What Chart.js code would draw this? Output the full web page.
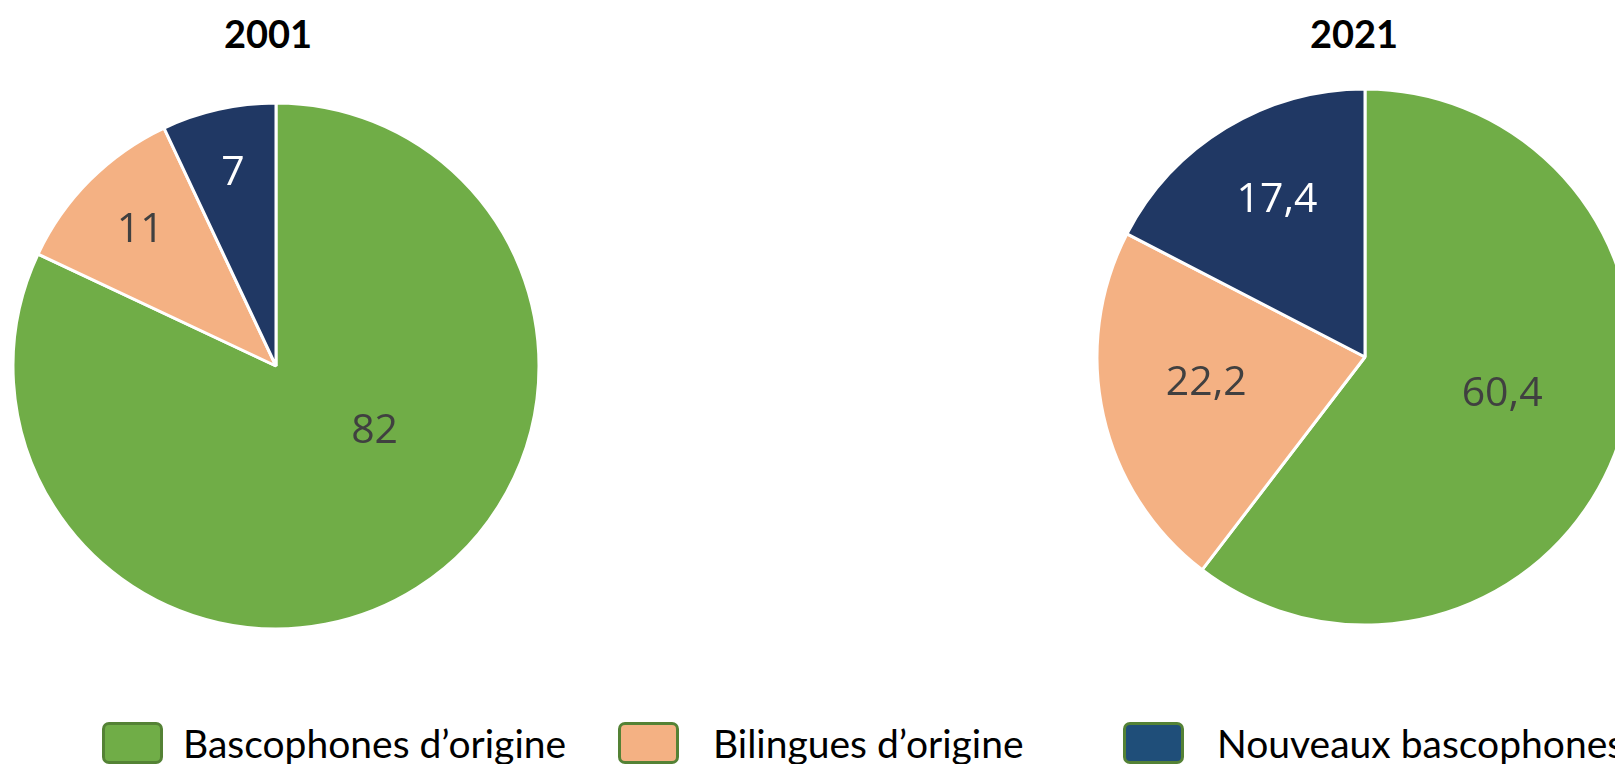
<!DOCTYPE html>
<html>
<head>
<meta charset="utf-8">
<script src="https://cdn.jsdelivr.net/npm/chart.js@4.4.0/dist/chart.umd.min.js"></script>
<style>
  html, body { margin: 0; padding: 0; background: #fff; }
  body { width: 1615px; height: 764px; overflow: hidden; position: relative; }
  canvas { position: absolute; }
  .title { position: absolute; top: 10px; font: bold 38px Lato, "Open Sans", sans-serif; color: #000; transform: translateX(-50%); }
  .lg-box { position: absolute; top: 722px; width: 55px; height: 36px; border: 3px solid #548235; border-radius: 7px; }
  .lg-text { position: absolute; top: 720px; font: 39px Lato, "Open Sans", sans-serif; color: #000; white-space: nowrap; line-height: 46px; }
</style>
</head>
<body>
<canvas id="pie2001" width="540" height="540" style="left:6px;top:96px"></canvas>
<canvas id="pie2021" width="560" height="560" style="left:1085px;top:77px"></canvas>
<div class="title" style="left:268px">2001</div>
<div class="title" style="left:1354px">2021</div>
<div id="legend"></div>
<script>
// data
var categories = ['Bascophones d\u2019origine', 'Bilingues d\u2019origine', 'Nouveaux bascophones'];
var values2001 = [82, 11, 7];
var values2021 = [60.4, 22.2, 17.4];
var labels2001 = ['82', '11', '7'];
var labels2021 = ['60,4', '22,2', '17,4'];

var sliceColors = ['#70AD47', '#F4B183', '#203864'];
var legendColors = ['#70AD47', '#F4B183', '#1F4E79'];
var labelColors = ['#404040', '#404040', '#ffffff'];

// label placement: [angle shift in degrees from slice middle, fraction of radius]
var labelPos2001 = [[-24, 0.45], [0, 0.73], [0, 0.75]];
var labelPos2021 = [[-3.6, 0.53], [3.3, 0.6], [2, 0.67]];

var sliceLabels = {
    id: 'sliceLabels',
    afterDatasetsDraw: function(chart, args, opts) {
        var ctx = chart.ctx;
        var meta = chart.getDatasetMeta(0);
        ctx.save();
        ctx.font = '41px "Open Sans", sans-serif';
        ctx.textAlign = 'center';
        ctx.textBaseline = 'middle';
        meta.data.forEach(function(arc, i) {
            var p = arc.getProps(['x', 'y', 'startAngle', 'endAngle', 'outerRadius'], true);
            var mid = (p.startAngle + p.endAngle) / 2 + opts.pos[i][0] * Math.PI / 180;
            var r = p.outerRadius * opts.pos[i][1];
            ctx.fillStyle = labelColors[i];
            ctx.fillText(opts.text[i], p.x + Math.cos(mid) * r, p.y + Math.sin(mid) * r);
        });
        ctx.restore();
    }
};

function makePie(id, values, text, pos, radius) {
    return new Chart(document.getElementById(id), {
        type: 'pie',
        data: {
            labels: categories,
            datasets: [{
                data: values,
                backgroundColor: sliceColors,
                borderColor: '#fff',
                borderWidth: 3
            }]
        },
        options: {
            responsive: false,
            animation: false,
            radius: radius,
            layout: { padding: 0 },
            plugins: {
                legend: { display: false },
                tooltip: { enabled: false },
                sliceLabels: { text: text, pos: pos }
            }
        },
        plugins: [sliceLabels]
    });
}

makePie('pie2001', values2001, labels2001, labelPos2001, 263);
makePie('pie2021', values2021, labels2021, labelPos2021, 268);

// legend
var boxLeft = [102, 618, 1123];
var textLeft = [183, 713, 1217];
var legend = document.getElementById('legend');
categories.forEach(function(c, i) {
    var b = document.createElement('div');
    b.className = 'lg-box';
    b.style.left = boxLeft[i] + 'px';
    b.style.background = legendColors[i];
    legend.appendChild(b);
    var t = document.createElement('div');
    t.className = 'lg-text';
    t.style.left = textLeft[i] + 'px';
    t.textContent = c;
    legend.appendChild(t);
});
</script>
</body>
</html>
